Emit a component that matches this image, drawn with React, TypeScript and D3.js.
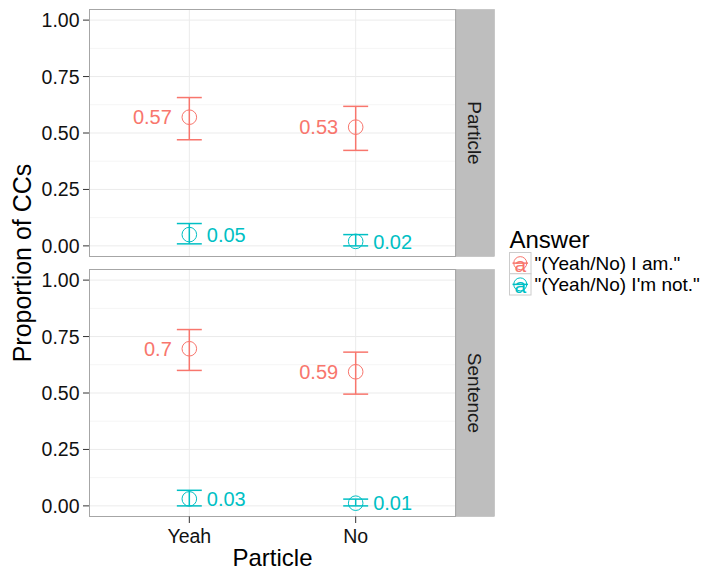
import React, { useEffect, useRef } from "react";
import * as d3 from "d3";

const categories = ["Yeah", "No"];
const facets = ["Particle", "Sentence"];
const answers = ['"(Yeah/No) I am."', '"(Yeah/No) I\'m not."'];
const colors = ["#F8766D", "#00BFC4"];
const yTicks = [0, 0.25, 0.5, 0.75, 1];
const yMinor = [0.125, 0.375, 0.625, 0.875];

// [facet][answer][category]
const means = [
  [[0.57, 0.526], [0.05, 0.02]],
  [[0.696, 0.594], [0.031, 0.012]],
];
const lowers = [
  [[0.47, 0.423], [0.009, 0]],
  [[0.6, 0.495], [0, 0]],
];
const uppers = [
  [[0.657, 0.618], [0.099, 0.05]],
  [[0.781, 0.681], [0.069, 0.03]],
];
const labels = [
  [["0.57", "0.53"], ["0.05", "0.02"]],
  [["0.7", "0.59"], ["0.03", "0.01"]],
];

const FONT = "'Liberation Sans', Arial, Helvetica, sans-serif";

const App: React.FC = () => {
  const svgRef = useRef<SVGSVGElement>(null);

  useEffect(() => {
    if (!svgRef.current) return;
    const width = 706;
    const height = 571;
    const svg = d3.select(svgRef.current).attr("width", width).attr("height", height);
    svg.selectAll("*").remove();

    const left = 89.5;
    const right = 455.5;
    const panelH = 247;
    const panelTops = [9.5, 269.5];
    const stripW = 38.5;

    const x = d3.scalePoint<string>().domain(categories).range([left, right]).padding(0.6);
    // error bar half width in px (width 0.15 of a category step)
    const half = x.step() * 0.075;

    facets.forEach((facet, fi) => {
      const top = panelTops[fi];
      const y = d3.scaleLinear().domain([-0.047, 1.047]).range([top + panelH, top]);
      const g = svg.append("g");

      g.append("rect")
        .attr("x", left).attr("y", top)
        .attr("width", right - left).attr("height", panelH)
        .attr("fill", "white");

      g.selectAll(".minor")
        .data(yMinor)
        .enter()
        .append("line")
        .attr("x1", left).attr("x2", right)
        .attr("y1", (d) => y(d)).attr("y2", (d) => y(d))
        .attr("stroke", "#f5f5f5").attr("stroke-width", 1);

      g.selectAll(".major")
        .data(yTicks)
        .enter()
        .append("line")
        .attr("x1", left).attr("x2", right)
        .attr("y1", (d) => y(d)).attr("y2", (d) => y(d))
        .attr("stroke", "#ebebeb").attr("stroke-width", 1);

      g.selectAll(".vmajor")
        .data(categories)
        .enter()
        .append("line")
        .attr("x1", (d) => x(d)!).attr("x2", (d) => x(d)!)
        .attr("y1", top).attr("y2", top + panelH)
        .attr("stroke", "#ebebeb").attr("stroke-width", 1);

      // y axis ticks and labels
      g.selectAll(".ytick")
        .data(yTicks)
        .enter()
        .append("line")
        .attr("x1", left - 6.5).attr("x2", left)
        .attr("y1", (d) => y(d)).attr("y2", (d) => y(d))
        .attr("stroke", "#333").attr("stroke-width", 1);

      g.selectAll(".ylab")
        .data(yTicks)
        .enter()
        .append("text")
        .attr("x", left - 10)
        .attr("y", (d) => y(d))
        .attr("dy", "0.36em")
        .attr("text-anchor", "end")
        .attr("font-family", FONT)
        .attr("font-size", 19.5)
        .attr("fill", "#111")
        .text((d) => d.toFixed(2));

      // series
      answers.forEach((_, ai) => {
        const color = colors[ai];
        categories.forEach((cat, ci) => {
          const cx = x(cat)!;
          const lo = y(lowers[fi][ai][ci]);
          const hi = y(uppers[fi][ai][ci]);
          const my = y(means[fi][ai][ci]);
          const eb = g.append("g").attr("stroke", color).attr("stroke-width", 1.5).attr("fill", "none");
          eb.append("line").attr("x1", cx).attr("x2", cx).attr("y1", lo).attr("y2", hi);
          eb.append("line").attr("x1", cx - half).attr("x2", cx + half).attr("y1", lo).attr("y2", lo);
          eb.append("line").attr("x1", cx - half).attr("x2", cx + half).attr("y1", hi).attr("y2", hi);
          g.append("circle")
            .attr("cx", cx).attr("cy", my).attr("r", 7.3)
            .attr("fill", "none").attr("stroke", color).attr("stroke-width", 1);
          g.append("text")
            .attr("x", ai === 0 ? cx - 17.5 : cx + 17.5)
            .attr("y", my)
            .attr("dy", "0.36em")
            .attr("text-anchor", ai === 0 ? "end" : "start")
            .attr("font-family", FONT)
            .attr("font-size", 20)
            .attr("fill", color)
            .text(labels[fi][ai][ci]);
        });
      });

      g.append("rect")
        .attr("x", left).attr("y", top)
        .attr("width", right - left).attr("height", panelH)
        .attr("fill", "none").attr("stroke", "#a6a6a6").attr("stroke-width", 1);

      // strip
      g.append("rect")
        .attr("x", right + 0.5).attr("y", top)
        .attr("width", stripW).attr("height", panelH)
        .attr("fill", "#bebebe").attr("stroke", "#b0b0b0").attr("stroke-width", 0.5);
      g.append("text")
        .attr("transform", `translate(${right + 0.5 + stripW / 2},${top + panelH / 2}) rotate(90)`)
        .attr("text-anchor", "middle")
        .attr("dy", "0.36em")
        .attr("font-family", FONT)
        .attr("font-size", 19)
        .attr("fill", "#1a1a1a")
        .text(facet);
    });

    // x axis (bottom panel)
    const bottom = panelTops[1] + panelH;
    svg.selectAll(".xtick")
      .data(categories)
      .enter()
      .append("line")
      .attr("x1", (d) => x(d)!).attr("x2", (d) => x(d)!)
      .attr("y1", bottom).attr("y2", bottom + 6.5)
      .attr("stroke", "#333").attr("stroke-width", 1);
    svg.selectAll(".xlab")
      .data(categories)
      .enter()
      .append("text")
      .attr("x", (d) => x(d)!)
      .attr("y", bottom + 26)
      .attr("text-anchor", "middle")
      .attr("font-family", FONT)
      .attr("font-size", 19.5)
      .attr("fill", "#111")
      .text((d) => d);

    svg.append("text")
      .attr("x", (left + right) / 2)
      .attr("y", 566)
      .attr("text-anchor", "middle")
      .attr("font-family", FONT)
      .attr("font-size", 24)
      .attr("fill", "#000")
      .text("Particle");

    svg.append("text")
      .attr("transform", `translate(22,${(panelTops[0] + bottom) / 2}) rotate(-90)`)
      .attr("text-anchor", "middle")
      .attr("dy", "0.36em")
      .attr("font-family", FONT)
      .attr("font-size", 25)
      .attr("fill", "#000")
      .text("Proportion of CCs");

    // legend
    const lg = svg.append("g");
    lg.append("text")
      .attr("x", 509.5).attr("y", 247.5)
      .attr("font-family", FONT)
      .attr("font-size", 24)
      .attr("fill", "#000")
      .text("Answer");
    const keyY = d3.scaleBand<string>().domain(answers).range([252.5, 295]);
    answers.forEach((a, ai) => {
      const ky = keyY(a)!;
      const kh = keyY.bandwidth();
      const kx = 509.5;
      const kw = 21.5;
      const cx = kx + kw / 2;
      const cy = ky + kh / 2;
      lg.append("rect")
        .attr("x", kx).attr("y", ky).attr("width", kw).attr("height", kh)
        .attr("fill", "white").attr("stroke", "#cccccc").attr("stroke-width", 1);
      lg.append("circle")
        .attr("cx", cx).attr("cy", cy).attr("r", 6.5)
        .attr("fill", "none").attr("stroke", colors[ai]).attr("stroke-width", 1);
      lg.append("line")
        .attr("x1", kx + 3).attr("x2", kx + kw - 3).attr("y1", cy).attr("y2", cy)
        .attr("stroke", colors[ai]).attr("stroke-width", 1.5);
      lg.append("text")
        .attr("x", cx).attr("y", cy)
        .attr("dy", "0.42em")
        .attr("text-anchor", "middle")
        .attr("font-family", FONT)
        .attr("font-size", 21)
        .attr("fill", colors[ai])
        .text("a");
      lg.append("text")
        .attr("x", 534.5).attr("y", cy)
        .attr("dy", "0.36em")
        .attr("font-family", FONT)
        .attr("font-size", 19)
        .attr("fill", "#000")
        .text(a);
    });
  }, []);

  return <svg ref={svgRef} style={{ position: "absolute", left: 0, top: 0 }}></svg>;
};

export default App;
